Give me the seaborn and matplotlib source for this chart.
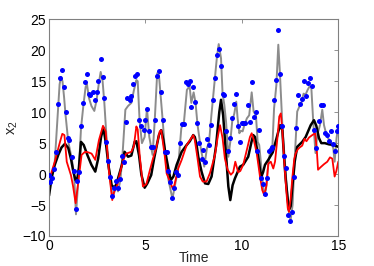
import numpy as np
import pandas as pd
import matplotlib
matplotlib.use("Agg")
import matplotlib.pyplot as plt
import seaborn as sns

# observations (blue dots)
obs_t = [0.0, 0.05, 0.15, 0.27, 0.36, 0.45, 0.55, 0.66, 0.78, 0.86, 0.97, 1.05, 1.18, 1.28, 1.38, 1.47, 1.57,
         1.66, 1.76, 1.87, 1.97, 2.06, 2.14, 2.26, 2.37, 2.47, 2.56, 2.68, 2.78, 2.87, 2.97, 3.08, 3.18, 3.27,
         3.39, 3.5, 3.6, 3.7, 3.78, 3.89, 3.97, 4.06, 4.18, 4.27, 4.37, 4.48, 4.56, 4.67, 4.79, 4.91, 5.0,
         5.08, 5.18, 5.27, 5.37, 5.48, 5.58, 5.68, 5.79, 5.89, 5.99, 6.1, 6.19, 6.29, 6.39, 6.5, 6.6, 6.7,
         6.77, 6.88, 6.98, 7.08, 7.19, 7.29, 7.38, 7.48, 7.59, 7.67, 7.78, 7.91, 8.0, 8.1, 8.19, 8.29, 8.38,
         8.48, 8.59, 8.69, 8.8, 8.9, 9.0, 9.09, 9.19, 9.3, 9.4, 9.5, 9.61, 9.69, 9.81, 9.9, 9.99, 10.08,
         10.16, 10.3, 10.4, 10.51, 10.61, 10.71, 10.8, 10.9, 11.01, 11.09, 11.18, 11.3, 11.41, 11.5, 11.58,
         11.68, 11.79, 11.89, 11.99, 12.1, 12.2, 12.3, 12.41, 12.51, 12.62, 12.72, 12.8, 12.91, 13.01, 13.1,
         13.2, 13.31, 13.41, 13.51, 13.62, 13.72, 13.82, 14.01, 14.12, 14.22, 14.33, 14.43, 14.53, 14.64,
         14.72, 14.81, 14.91, 15.0]
obs_v = [-0.1, -1.2, -0.7, 0.8, 3.5, 11.3, 15.6, 16.8, 14.0, 10.0, 5.8, 5.5, 2.7, 0.5, -5.7, -1.1, 0.4,
         7.8, 11.5, 14.8, 16.2, 13.0, 12.8, 13.3, 11.9, 13.3, 15.0, 18.6, 15.7, 12.3, 5.2, 2.1, -0.5, -3.5,
         -2.2, -1.1, -2.3, -0.8, 3.0, 2.0, 8.4, 12.3, 12.0, 12.6, 14.5, 15.8, 16.1, 8.7, 7.7, 7.1, 8.7,
         10.5, 7.0, 4.4, 4.4, 8.8, 15.8, 16.7, 13.2, 8.8, 3.6, 3.6, 0.5, -1.2, -3.9, -2.3, 0.4, -0.1,
         5.0, 8.1, 8.1, 14.9, 14.5, 15.1, 10.8, 14.1, 11.6, 8.2, 5.1, 2.4, 3.9, 2.0, 5.6, 4.7, 7.9,
         12.0, 15.6, 19.3, 20.2, 17.5, 13.0, 12.8, 7.0, 3.7, 5.8, 9.0, 11.4, 13.0, 7.8, 5.2, 8.3, 8.3,
         8.2, 11.1, 8.4, 14.9, 9.2, 10.1, 3.8, 7.1, -0.7, -1.6, -3.2, -0.6, 3.7, 4.1, 4.4,
         12.0, 15.2, 23.3, 16.2, 7.7, 2.9, 1.0, -6.6, -7.6, -6.2, -0.5, 7.4, 12.7, 11.3, 12.1,
         15.0, 12.6, 14.7, 15.6, 14.3, 7.1, 4.2, 8.6, 11.2, 11.1, 6.6, 6.3, 5.3, 7.0,
         4.8, 3.7, 7.0, 7.8]

# true state (gray line)
true_t = [0.0, 0.15, 0.3, 0.45, 0.55, 0.62, 0.7, 0.78, 0.86, 1.0, 1.18, 1.3, 1.4, 1.52, 1.66, 1.78, 1.9, 1.97,
          2.07, 2.2, 2.35, 2.47, 2.6, 2.68, 2.78, 2.87, 3.0, 3.1, 3.2, 3.3, 3.4, 3.5, 3.58, 3.7, 3.8, 3.96,
          4.1, 4.27, 4.4, 4.53, 4.6, 4.7, 4.82, 4.96, 5.08, 5.2, 5.37, 5.48, 5.61, 5.7, 5.9, 6.03, 6.2,
          6.4, 6.52, 6.68, 6.86, 7.0, 7.15, 7.29, 7.38, 7.5, 7.6, 7.7, 7.88, 8.05, 8.19, 8.3, 8.42, 8.57,
          8.71, 8.8, 8.92, 9.0, 9.09, 9.18, 9.3, 9.4, 9.5, 9.61, 9.71, 9.78, 9.87, 9.95, 10.04, 10.13,
          10.26, 10.38, 10.51, 10.61, 10.73, 10.82, 10.9, 11.0, 11.08, 11.16, 11.25, 11.33, 11.46, 11.58,
          11.67, 11.79, 11.89, 11.97, 12.1, 12.22, 12.36, 12.46, 12.53, 12.63, 12.74, 12.87, 12.98, 13.08,
          13.2, 13.3, 13.41, 13.5, 13.6, 13.7, 13.82, 13.91, 14.05, 14.17, 14.26, 14.34, 14.43, 14.6,
          14.74, 14.81, 14.91, 15.0]
true_v = [-2.0, -0.5, 2.0, 9.5, 14.5, 15.7, 15.0, 12.5, 9.5, 5.2, 2.5, 0.0, -6.5, -1.0, 7.4, 11.0, 14.1, 14.5,
          12.3, 11.0, 10.2, 12.0, 15.0, 16.5, 15.0, 11.5, 5.0, 1.5, -1.5, -3.8, -2.8, -1.8, -2.8, -1.0, 2.5, 10.4,
          11.0, 11.5, 13.5, 15.2, 15.0, 8.5, 5.0, 6.0, 10.6, 6.0, 3.1, 8.5, 16.3, 16.0, 8.5, 3.0, -1.0,
          -4.0, -2.0, 0.5, 7.4, 8.5, 13.6, 14.2, 11.5, 13.2, 11.5, 8.0, 4.0, 1.2, 4.2, 5.2, 9.5, 14.4,
          19.0, 21.0, 18.7, 13.0, 11.2, 8.5, 2.8, 5.2, 8.5, 9.8, 11.7, 9.0, 6.6, 7.0, 6.9, 7.9,
          9.0, 9.5, 13.2, 10.1, 9.5, 5.2, 4.7, 1.5, -1.2, -3.4, -2.5, 0.4, 3.6, 4.2,
          10.6, 14.4, 20.9, 16.5, 7.9, 2.5, -3.4, -6.6, -7.4, -5.0, 2.5, 10.1, 10.9, 11.4,
          13.0, 12.8, 13.6, 14.1, 14.1, 8.5, 3.4, 6.3, 7.9, 10.4, 7.9, 6.9, 6.0, 5.2,
          4.2, 2.0, 5.8, 7.9]

# estimate 1 (black line)
est1_t = [0.0, 0.14, 0.3, 0.48, 0.65, 0.83, 1.0, 1.15, 1.26, 1.38, 1.45, 1.55, 1.66, 1.8, 2.0, 2.2, 2.4, 2.55,
          2.7, 2.82, 2.95, 3.1, 3.25, 3.39, 3.5, 3.58, 3.78, 3.92, 4.1, 4.27, 4.44, 4.53, 4.67, 4.79, 4.96,
          5.1, 5.3, 5.45, 5.56, 5.7, 5.82, 5.93, 6.01, 6.19, 6.31, 6.45, 6.62, 6.88, 7.14, 7.3, 7.48, 7.56,
          7.65, 7.74, 7.91, 8.09, 8.26, 8.43, 8.66, 8.83, 8.92, 9.03, 9.18, 9.3, 9.4, 9.52, 9.64, 9.9,
          10.07, 10.33, 10.5, 10.59, 10.68, 10.85, 11.0, 11.1, 11.2, 11.37, 11.6, 11.8, 11.98, 12.1,
          12.18, 12.27, 12.36, 12.44, 12.53, 12.62, 12.74, 12.87, 13.13, 13.31, 13.57, 13.74, 13.86, 14.0,
          14.12, 14.3, 14.52, 14.77, 15.0]
est1_v = [-3.5, -0.5, 1.5, 3.1, 4.3, 4.9, 4.2, 2.3, 0.4, -1.0, -1.1, 1.0, 5.2, 4.7, 3.0, 1.5, 0.4, 2.5,
          6.0, 7.5, 5.0, 1.0, -1.8, -2.2, -1.6, -0.7, 1.5, 3.6, 2.8, 3.0, 5.2, 5.3, 3.0, -0.1, -2.2,
          -1.5, -0.15, 2.5, 4.2, 6.3, 7.1, 5.5, 3.9, 0.9, -1.0, -0.4, 1.5, 3.6, 4.7, 5.3, 6.3, 6.0,
          4.8, 2.8, 0.4, -1.5, -1.6, -0.4, 4.5, 10.0, 12.0, 9.5, 3.1, -2.0, -4.2, -1.8, -0.7, 1.2,
          1.5, 2.8, 5.2, 6.3, 6.0, 2.8, -0.5, 0.3, 1.5, 2.3, 3.5, 5.8, 7.9, 7.1,
          3.1, -0.7, -3.5, -5.8, -5.2, -2.0, 2.0, 4.4, 5.2, 6.0, 7.9, 8.7, 7.8, 5.8,
          5.0, 5.0, 4.8, 4.7, 4.4]

# estimate 2 (red line)
est2_t = [0.0, 0.14, 0.3, 0.57, 0.69, 0.8, 0.92, 1.14, 1.25, 1.38, 1.52, 1.69, 1.87, 2.05, 2.21, 2.4, 2.59,
          2.8, 2.94, 3.11, 3.28, 3.37, 3.54, 3.68, 3.85, 4.0, 4.27, 4.4, 4.53, 4.6, 4.7, 4.87, 5.05, 5.22,
          5.39, 5.56, 5.74, 5.82, 6.0, 6.1, 6.27, 6.41, 6.5, 6.7, 6.88, 7.14, 7.31, 7.48, 7.56, 7.69, 7.83,
          7.97, 8.17, 8.35, 8.6, 8.75, 8.87, 9.0, 9.12, 9.26, 9.43, 9.55, 9.66, 9.81, 9.92,
          10.07, 10.25, 10.42, 10.51, 10.62, 10.77, 10.94, 11.06, 11.16, 11.28, 11.37, 11.5, 11.63, 11.72,
          11.85, 11.94, 12.02, 12.1, 12.2, 12.3, 12.38, 12.44, 12.53, 12.62, 12.72, 12.8, 12.9, 13.0,
          13.13, 13.25, 13.35, 13.48, 13.65, 13.8, 13.88, 13.95, 14.08, 14.26, 14.43, 14.57, 14.69, 14.81,
          14.9, 15.0]
est2_v = [-1.0, 0.4, 2.0, 5.2, 6.5, 6.3, 2.0, -0.2, -2.0, -4.7, -1.2, 3.1, 3.6, 3.5, 3.3, 2.3, 5.5,
          7.8, 6.9, 0.4, -4.2, -2.9, -1.8, 0.2, 2.3, 3.3, 3.6, 4.5, 7.7, 7.2, 3.1, -2.0, -1.6, 0.5,
          2.5, 4.2, 6.9, 7.1, 3.0, 0.1, -1.2, -2.3, -1.8, 0.9, 2.3, 4.7, 5.5, 6.3, 5.5, 2.8, -0.4,
          -1.2, -1.2, 0.2, 3.0, 6.0, 7.9, 5.8, 2.5, 0.7, -0.1, 0.3, 2.0, 0.3, 0.5,
          1.5, 3.8, 6.0, 6.6, 5.5, 3.4, -0.4, -2.6, -3.4, -1.8, 1.7, 2.0, 0.9, 2.0,
          6.0, 9.3, 9.8, 7.0, 2.0, -2.5, -5.5, -6.1, -4.0, -0.5, 2.5, 3.4, 4.0, 4.3,
          4.6, 5.7, 5.3, 5.9, 6.3, 6.6, 4.2, 0.7, 1.1, 1.6, 2.0, 2.7, 2.5, -0.4,
          0.5, 2.0]

x_ticks = [0, 5, 10, 15]
y_ticks = [-10, -5, 0, 5, 10, 15, 20, 25]

sns.set_style("white")
plt.rcParams["font.family"] = ["Liberation Sans", "DejaVu Sans"]
plt.rcParams["mathtext.default"] = "regular"

fig = plt.figure(figsize=(3.74, 2.66), dpi=100)
ax = fig.add_axes([0.131, 0.1128, 0.7735, 0.8146])

sns.lineplot(x=true_t, y=true_v, ax=ax, color="#8c8c8c", linewidth=1.4, sort=False, estimator=None)
sns.lineplot(x=est1_t, y=est1_v, ax=ax, color="black", linewidth=1.8, sort=False, estimator=None)
sns.lineplot(x=est2_t, y=est2_v, ax=ax, color="#ff0000", linewidth=1.3, sort=False, estimator=None)
sns.scatterplot(x=obs_t, y=obs_v, ax=ax, color="#0000ff", s=13, linewidth=0, zorder=5)

ax.set_xlim(0, 15)
ax.set_ylim(-10, 25)
ax.set_xticks(x_ticks)
ax.set_yticks(y_ticks)
ax.tick_params(direction="in", length=3, width=0.6, color="#808080", labelsize=10,
               top=True, right=True, labelcolor="black", pad=2)
for s in ax.spines.values():
    s.set_color("#808080")
    s.set_linewidth(0.8)
    s.set_visible(True)
ax.set_xlabel("Time", fontsize=10, labelpad=-1)
ax.set_ylabel("x$_2$", fontsize=10.5, labelpad=2)

fig.savefig("out.png", dpi=100)
